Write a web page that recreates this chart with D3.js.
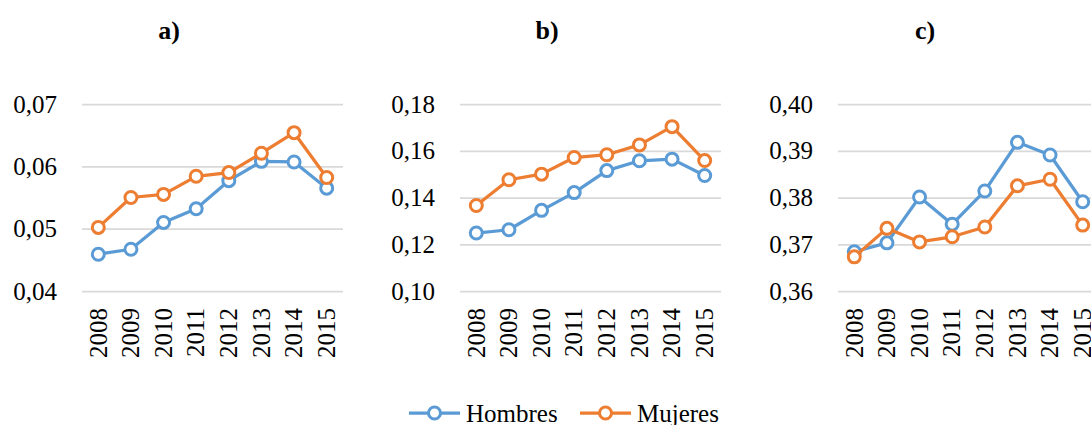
<!DOCTYPE html>
<html><head><meta charset="utf-8">
<script src="https://cdn.jsdelivr.net/npm/d3@7"></script>
<style>html,body{margin:0;padding:0;background:#fff;overflow:hidden}svg{display:block}</style>
</head><body><svg id="c" width="1091" height="425"></svg>
<script>
const years = ["2008","2009","2010","2011","2012","2013","2014","2015"];
const panelTitles = ["a)","b)","c)"];
const seriesNames = ["Hombres","Mujeres"];
const seriesColors = ["#5B9BD5","#ED7D31"];

const hombresA = [0.0459,0.0467,0.0510,0.0532,0.0577,0.0608,0.0607,0.0565];
const mujeresA = [0.0502,0.0550,0.0555,0.0584,0.0590,0.0621,0.0654,0.0582];
const hombresB = [0.1248,0.1262,0.1345,0.1421,0.1515,0.1557,0.1564,0.1494];
const mujeresB = [0.1366,0.1476,0.1500,0.1571,0.1583,0.1625,0.1703,0.1558];
const hombresC = [0.3684,0.3703,0.3801,0.3743,0.3814,0.3918,0.3891,0.3791];
const mujeresC = [0.3673,0.3734,0.3705,0.3716,0.3737,0.3825,0.3839,0.3741];

const ticksA = [0.04,0.05,0.06,0.07];
const ticksB = [0.10,0.12,0.14,0.16,0.18];
const ticksC = [0.36,0.37,0.38,0.39,0.40];

const panels = [
  {title: panelTitles[0], series:[hombresA,mujeresA], ticks:ticksA},
  {title: panelTitles[1], series:[hombresB,mujeresB], ticks:ticksB},
  {title: panelTitles[2], series:[hombresC,mujeresC], ticks:ticksC}
];

const svg = d3.select("#c");
const FONT = "Liberation Serif";
const fmt = d3.format(".2f");
const chartW = 378, plotL = 82, plotW = 261, plotT = 104, plotB = 291;

panels.forEach((p,i)=>{
  const g = svg.append("g").attr("transform",`translate(${i*chartW},0)`);
  const x = d3.scaleBand().domain(years).range([plotL, plotL+plotW]);
  const y = d3.scaleLinear().domain([p.ticks[0], p.ticks[p.ticks.length-1]]).range([plotB, plotT]);

  g.append("text").attr("x",169).attr("y",39).attr("text-anchor","middle")
    .style("font-family",FONT).style("font-weight","bold").style("font-size","26px").text(p.title);

  const ya = g.append("g").attr("transform",`translate(${plotL},0)`)
    .call(d3.axisLeft(y).tickValues(p.ticks).tickSize(-plotW).tickPadding(25)
      .tickFormat(d=>fmt(d).replace(".",",")));
  ya.select(".domain").remove();
  ya.selectAll(".tick line").attr("stroke","#d9d9d9").attr("stroke-width",1.75);
  ya.selectAll(".tick text").style("font-family",FONT).style("font-size","25px").attr("fill","#000");

  const xa = g.append("g").attr("transform",`translate(0,${plotB})`)
    .call(d3.axisBottom(x).tickSize(0).tickPadding(0));
  xa.select(".domain").remove();
  xa.selectAll(".tick text").style("font-family",FONT).style("font-size","25px").attr("fill","#000")
    .attr("text-anchor","end").attr("transform","rotate(-90)")
    .attr("x",-17).attr("y",0).attr("dy","0.33em");

  const line = d3.line().x((d,j)=>x(years[j])+x.bandwidth()/2).y(d=>y(d));
  p.series.forEach((s,k)=>{
    g.append("path").datum(s).attr("d",line).attr("fill","none")
      .attr("stroke",seriesColors[k]).attr("stroke-width",3.25).attr("stroke-linejoin","round");
    g.selectAll(null).data(s).enter().append("circle")
      .attr("cx",(d,j)=>x(years[j])+x.bandwidth()/2).attr("cy",d=>y(d)).attr("r",6)
      .attr("fill","#fff").attr("stroke",seriesColors[k]).attr("stroke-width",3);
  });
});

// legend
const legX = [409, 580];
seriesNames.forEach((n,k)=>{
  const lg = svg.append("g").attr("transform",`translate(${legX[k]},413)`);
  lg.append("line").attr("x1",0).attr("x2",51).attr("y1",0).attr("y2",0)
    .attr("stroke",seriesColors[k]).attr("stroke-width",3.25);
  lg.append("circle").attr("cx",25.5).attr("cy",0).attr("r",6).attr("fill","#fff")
    .attr("stroke",seriesColors[k]).attr("stroke-width",3);
  lg.append("text").attr("x",57).attr("y",8.5).style("font-family",FONT).style("font-size","25px")
    .attr("fill","#000").text(n);
});
</script></body></html>
